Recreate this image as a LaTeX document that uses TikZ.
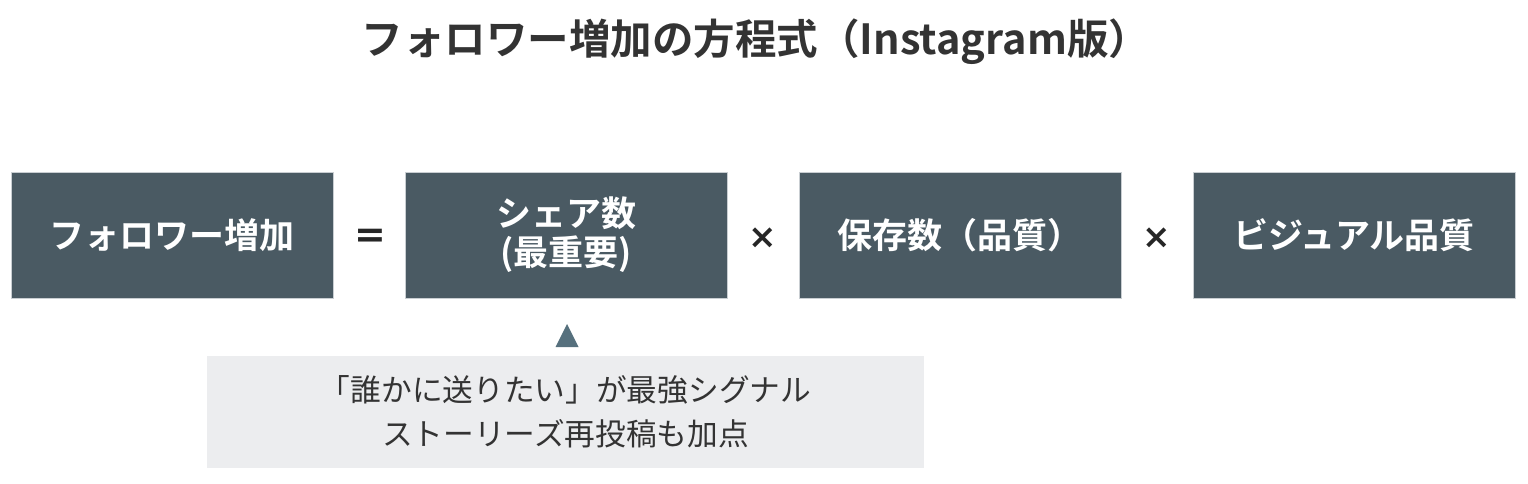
\documentclass[tikz,border=0pt]{standalone}
\usepackage{fontspec}
\setmainfont{Noto Sans CJK JP}
\newfontfamily\jpbold{Noto Sans CJK JP Bold}
\newfontfamily\symbold{DejaVu Sans Bold}
\definecolor{boxfill}{HTML}{4A5A63}
\definecolor{boxedge}{HTML}{C9CED2}
\definecolor{notefill}{HTML}{ECEDEF}
\definecolor{tricol}{HTML}{56707D}
\definecolor{txtdark}{HTML}{333333}
\tikzset{
  termbox/.style={rectangle, fill=boxfill, draw=boxedge, line width=0.8pt,
    minimum width=322pt, minimum height=126pt, inner sep=0pt,
    text=white, align=center, font=\jpbold\fontsize{35}{39}\selectfont},
  opsym/.style={text=black!85, inner sep=0pt},
  notebox/.style={rectangle, fill=notefill, draw=none, minimum width=717pt,
    minimum height=112pt, inner sep=0pt, align=center, text=txtdark,
    font=\fontsize{30.7}{44}\selectfont},
  titletext/.style={text=txtdark, font=\jpbold\fontsize{41.5}{46}\selectfont, inner sep=0pt}
}
\begin{document}
\begin{tikzpicture}[x=1pt,y=-1pt]
\useasboundingbox (0,0) rectangle (1528,484);
\node[titletext] (title) at (756,42) {フォロワー増加の方程式（Instagram版）};
\node[termbox] (b1) at (172,235) {フォロワー増加};
\node[opsym, font=\symbold\fontsize{38}{40}\selectfont] (eq) at (370,238) {=};
\node[termbox] (b2) at (566,235) {シェア数\\(最重要)};
\node[opsym, font=\symbold\fontsize{34}{36}\selectfont] (x1) at (763,238) {×};
\node[termbox] (b3) at (960,235) {保存数（品質）};
\node[opsym, font=\symbold\fontsize{34}{36}\selectfont] (x2) at (1157,238) {×};
\node[termbox] (b4) at (1354,235) {ビジュアル品質};
\node[notebox] (note) at (565.5,412) {「誰かに送りたい」が最強シグナル\\ストーリーズ再投稿も加点};
\coordinate (tA) at (567,324);
\coordinate (tB) at (578.5,347);
\coordinate (tC) at (555.5,347);
\fill[tricol] (tA) -- (tB) -- (tC) -- cycle;
\end{tikzpicture}
\end{document}
